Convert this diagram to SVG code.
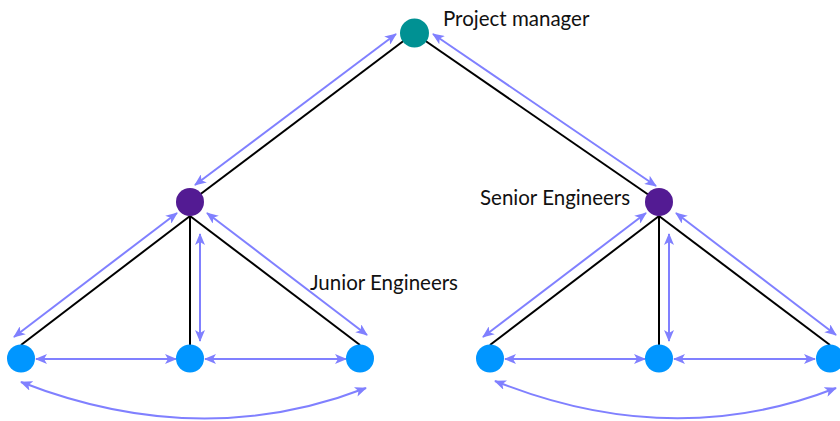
<svg xmlns="http://www.w3.org/2000/svg" width="840" height="421" viewBox="0 0 840 421">
  <style>
    .edge { stroke: #000000; stroke-width: 2; fill: none; }
    .flow { stroke: #8080ff; stroke-width: 2; fill: none; marker-start: url(#ah); marker-end: url(#ah); }
    .label { font-family: "Lato", "Liberation Sans", sans-serif; font-size: 20.5px; fill: #111111; }
    .pm { fill: #009193; }
    .senior { fill: #531b93; }
    .junior { fill: #0096ff; }
  </style>
  <defs>
    <marker id="ah" viewBox="0 0 12 10" refX="11" refY="5" markerWidth="12" markerHeight="10" markerUnits="userSpaceOnUse" orient="auto-start-reverse">
      <path d="M0,0 L12,5 L0,10 L3,5 z" fill="#8080ff"/>
    </marker>
  </defs>

  <g id="connectors">
    <!-- hierarchy lines -->
    <line class="edge" x1="414" y1="33" x2="190" y2="202"/>
    <line class="edge" x1="414" y1="33" x2="659" y2="202"/>
    <line class="edge" x1="190" y1="216" x2="21" y2="345"/>
    <line class="edge" x1="190" y1="216" x2="190" y2="345"/>
    <line class="edge" x1="190" y1="216" x2="360" y2="345"/>
    <line class="edge" x1="659" y1="216" x2="490" y2="345"/>
    <line class="edge" x1="659" y1="216" x2="659" y2="345"/>
    <line class="edge" x1="659" y1="216" x2="830" y2="345"/>

    <!-- communication arrows -->
    <line class="flow" x1="195" y1="185" x2="396" y2="34"/>
    <line class="flow" x1="433" y1="34" x2="656" y2="186"/>

    <line class="flow" x1="177" y1="213" x2="14" y2="337"/>
    <line class="flow" x1="200" y1="234" x2="200" y2="341"/>
    <line class="flow" x1="207" y1="213" x2="367" y2="335"/>
    <line class="flow" x1="36" y1="359" x2="176" y2="359"/>
    <line class="flow" x1="205" y1="359" x2="346" y2="359"/>
    <path class="flow" d="M21,382 Q200,452 366,388"/>

    <line class="flow" x1="646" y1="213" x2="483" y2="337"/>
    <line class="flow" x1="669" y1="234" x2="669" y2="341"/>
    <line class="flow" x1="676" y1="213" x2="836" y2="335"/>
    <line class="flow" x1="505" y1="359" x2="645" y2="359"/>
    <line class="flow" x1="674" y1="359" x2="815" y2="359"/>
    <path class="flow" d="M495,381 Q672,452 836,388"/>
  </g>

  <g id="project-manager">
    <circle class="pm" cx="414.5" cy="33" r="14.5"/>
    <text class="label" x="443" y="26">Project manager</text>
  </g>
  <g id="senior-left">
    <circle class="senior" cx="190" cy="202" r="14"/>
  </g>
  <g id="senior-right">
    <circle class="senior" cx="659" cy="202" r="14"/>
    <text class="label" x="480" y="205">Senior Engineers</text>
  </g>
  <g id="junior-left-1">
    <circle class="junior" cx="21" cy="358.5" r="14"/>
  </g>
  <g id="junior-left-2">
    <circle class="junior" cx="190" cy="358.5" r="14"/>
  </g>
  <g id="junior-left-3">
    <circle class="junior" cx="360" cy="358.5" r="14"/>
    <text class="label" x="310" y="290">Junior Engineers</text>
  </g>
  <g id="junior-right-1">
    <circle class="junior" cx="490" cy="358.5" r="14"/>
  </g>
  <g id="junior-right-2">
    <circle class="junior" cx="659" cy="358.5" r="14"/>
  </g>
  <g id="junior-right-3">
    <circle class="junior" cx="830" cy="358.5" r="14"/>
  </g>
</svg>
